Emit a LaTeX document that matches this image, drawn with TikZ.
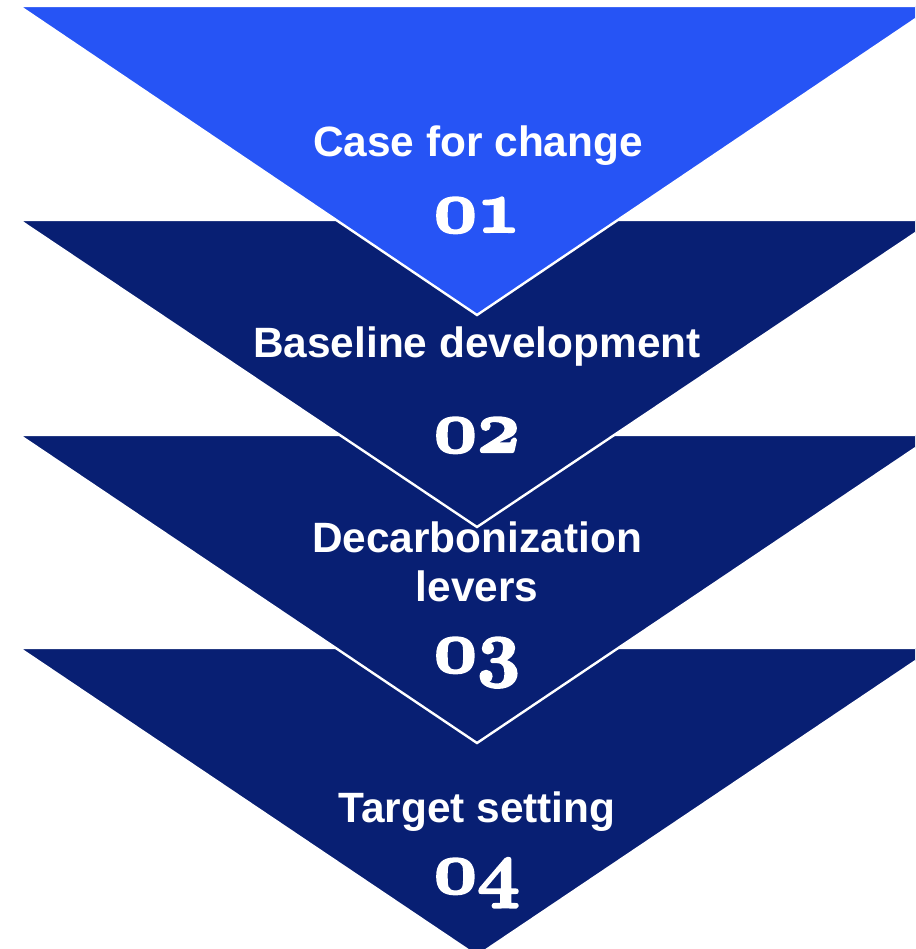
\documentclass[tikz,border=0pt]{standalone}
\usepackage{fontspec}
\newfontfamily\labelsans{Liberation Sans}
% bold old-style digits from the math italic font, freely scalable
\DeclareFontFamily{OML}{stepnum}{\skewchar\font127 }
\DeclareFontShape{OML}{stepnum}{b}{it}{<->cmmib10}{}
% heavier digits: fill and stroke the glyph outlines with round joins
\newcommand\heavydigits[1]{\special{pdf:literal direct 2 Tr 2.2 w 1 j}#1\special{pdf:literal direct 0 Tr 0 j}}
\definecolor{steplight}{RGB}{38,84,245}
\definecolor{stepdark}{RGB}{8,31,115}
\tikzset{
  funnel/.style={draw=white, line width=2.4pt, line join=miter},
  steptitle/.style={text=white, anchor=base, align=center, inner sep=0pt,
    font=\labelsans\bfseries\fontsize{42.4}{49}\selectfont},
  stepnumber/.style={text=white, anchor=base, inner sep=0pt,
    font=\fontsize{75}{75}\usefont{OML}{stepnum}{b}{it}},
}
\begin{document}
\begin{tikzpicture}[x=1pt, y=-1pt]
  \useasboundingbox (0,0) rectangle (915,949);
  \clip (0,0) rectangle (915,949);
  % stacked downward chevrons, lowest drawn first
  \path[funnel, fill=stepdark]  (19,648) -- (935,648) -- (477,956) -- cycle;
  \path[funnel, fill=stepdark]  (19,435) -- (935,435) -- (477,743) -- cycle;
  \path[funnel, fill=stepdark]  (19,220) -- (935,220) -- (477,527) -- cycle;
  \path[funnel, fill=steplight] (19,6)   -- (935,6)   -- (477,315) -- cycle;
  % step titles and numbers
  \node[steptitle]  (t1) at (478,157) {Case for change};
  \node[stepnumber] (n1) at (477,232) {\heavydigits{01}};
  \node[steptitle]  (t2) at (477,357) {Baseline development};
  \node[stepnumber] (n2) at (477,452) {\heavydigits{02}};
  \node[steptitle]  (t3) at (477,601) {Decarbonization\\levers};
  \node[stepnumber] (n3) at (477,672) {\heavydigits{03}};
  \node[steptitle]  (t4) at (477,822) {Target setting};
  \node[stepnumber] (n4) at (477,893) {\heavydigits{04}};
\end{tikzpicture}
\end{document}
